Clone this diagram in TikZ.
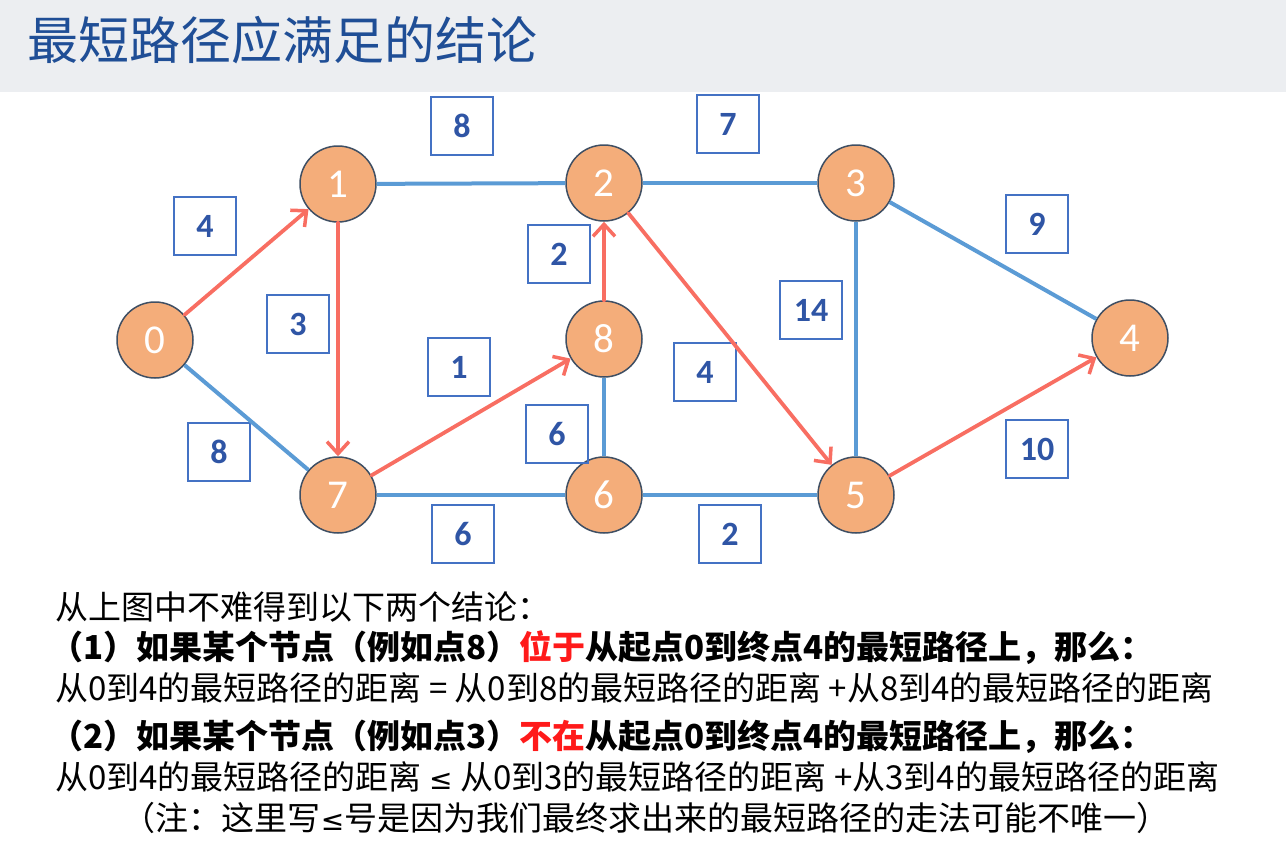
\documentclass[tikz,border=0pt]{standalone}
\usepackage{fontspec}
\setmainfont{Carlito}
\newfontfamily\cjk{Noto Sans CJK SC}
\newfontfamily\symf{DejaVu Sans}
\usetikzlibrary{arrows.meta}
\definecolor{titlebg}{HTML}{ECEEF1}
\definecolor{titleblue}{HTML}{1F4E96}
\definecolor{nodefill}{HTML}{F4AD7A}
\definecolor{nodeborder}{HTML}{3F4F63}
\definecolor{edgeblue}{HTML}{5B9BD5}
\definecolor{edgered}{HTML}{F86E62}
\definecolor{boxblue}{HTML}{4472C4}
\definecolor{wtext}{HTML}{2F55A5}
\definecolor{hired}{HTML}{FF1A1A}
\newcommand{\myle}{{\symf\fontsize{28}{30}\selectfont ≤}}
\begin{document}
\begin{tikzpicture}[x=1pt,y=-1pt,
  vtx/.style={circle, fill=nodefill, draw=nodeborder, line width=1.5pt, minimum size=76pt, inner sep=0pt, text=white, font=\fontsize{41}{41}\selectfont},
  wbox/.style={draw=boxblue, line width=1.5pt, minimum width=62pt, minimum height=58pt, inner sep=0pt, text=wtext, font=\bfseries\fontsize{34}{34}\selectfont},
  bedge/.style={draw=edgeblue, line width=4pt},
  redge/.style={draw=edgered, line width=3.8pt, line cap=round, -{Straight Barb[length=12pt,width=22pt,line width=3.5pt]}},
  txt/.style={anchor=west, inner sep=0pt, font=\cjk\fontsize{33}{35}\selectfont},
  btxt/.style={anchor=west, inner sep=0pt, font=\cjk\bfseries\fontsize{33}{35}\selectfont}]
\useasboundingbox (0,0) rectangle (1286,854);
\fill[titlebg] (0,0) rectangle (1286,92);
\node[anchor=west, inner sep=0pt, text=titleblue, font=\cjk\fontsize{51}{52}\selectfont] (title) at (27,40) {最短路径应满足的结论};
% vertices
\node[vtx] (n0) at (155,340) {0};
\node[vtx] (n1) at (338,184) {1};
\node[vtx] (n2) at (604,183) {2};
\node[vtx] (n3) at (856,183) {3};
\node[vtx] (n4) at (1130,338) {4};
\node[vtx] (n5) at (856,495) {5};
\node[vtx] (n6) at (604,495) {6};
\node[vtx] (n7) at (338,495) {7};
\node[vtx] (n8) at (604,339) {8};
% weights
\node[wbox] (w12) at (462,126) {8};
\node[wbox] (w23) at (728,124) {7};
\node[wbox] (w01) at (205,226) {4};
\node[wbox] (w17) at (298,324) {3};
\node[wbox] (w82) at (559,254) {2};
\node[wbox] (w78) at (459,367) {1};
\node[wbox] (w35) at (811,310) {14};
\node[wbox] (w25) at (705,372) {4};
\node[wbox] (w86) at (557,434) {6};
\node[wbox] (w34) at (1037,224) {9};
\node[wbox] (w54) at (1037,449) {10};
\node[wbox] (w07) at (219,452) {8};
\node[wbox] (w76) at (463,534) {6};
\node[wbox] (w65) at (730,534) {2};
% blue edges
\draw[bedge] (n1) -- (n2);
\draw[bedge] (n2) -- (n3);
\draw[bedge] (n3) -- (n4);
\draw[bedge] (n3) -- (n5);
\draw[bedge] (n0) -- (n7);
\draw[bedge] (n7) -- (n6);
\draw[bedge] (n6) -- (n8);
\draw[bedge] (n6) -- (n5);
% red edges
\draw[redge] (n0) -- (n1);
\draw[redge] (n1) -- (n7);
\draw[redge] (n7) -- (n8);
\draw[redge] (n8) -- (n2);
\draw[redge] (n2) -- (n5);
\draw[redge] (n5) -- (n4);
% text
\node[txt] (l1) at (55,607) {从上图中不难得到以下两个结论：};
\node[btxt] (l2) at (50,648) {（1）如果某个节点（例如点8）{\color{hired}位于}从起点0到终点4的最短路径上，那么：};
\node[txt] (l3) at (55,688) {从0到4的最短路径的距离 = 从0到8的最短路径的距离 +从8到4的最短路径的距离};
\node[btxt] (l4) at (50,737) {（2）如果某个节点（例如点3）{\color{hired}不在}从起点0到终点4的最短路径上，那么：};
\node[txt] (l5) at (55,777) {从0到4的最短路径的距离 \myle{} 从0到3的最短路径的距离 +从3到4的最短路径的距离};
\node[txt, anchor=center] (l6) at (646,818) {（注：这里写\myle{}号是因为我们最终求出来的最短路径的走法可能不唯一）};
\end{tikzpicture}
\end{document}
